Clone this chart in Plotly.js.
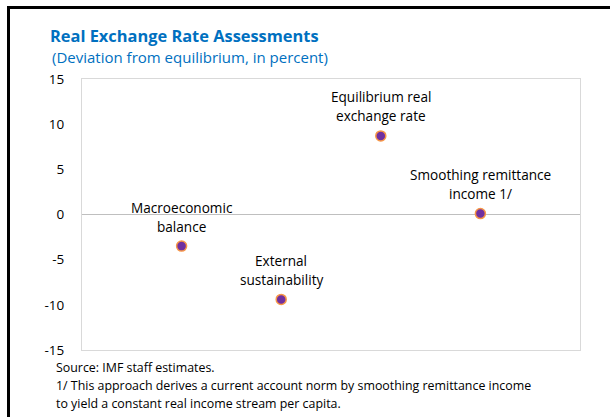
<!DOCTYPE html>
<html>
<head>
<meta charset="utf-8">
<script src="https://cdn.plot.ly/plotly-3.0.1.min.js"></script>
<style>
  html, body { margin: 0; padding: 0; background: #fff; }
  #wrap { position: relative; width: 610px; height: 417px; overflow: hidden; }
  #chart { position: absolute; left: 0; top: 0; width: 610px; height: 417px; }
  #frame { position: absolute; left: 7px; top: 6px; width: 620px; height: 430px;
           border-left: 3px solid #000; border-top: 3px solid #000; pointer-events: none; }
</style>
</head>
<body>
<div id="wrap">
  <div id="chart"></div>
  <div id="frame"></div>
</div>
<script>
// Data
const categories = ["Macroeconomic balance", "External sustainability", "Equilibrium real exchange rate", "Smoothing remittance income 1/"];
const labelLine1 = ["Macroeconomic", "External", "Equilibrium real", "Smoothing remittance"];
const labelLine2 = ["balance", "sustainability", "exchange rate", "income 1/"];
const positions = [1, 2, 3, 4];
const deviation = [-3.5, -9.4, 8.7, 0.1];
const yTicks = [-15, -10, -5, 0, 5, 10, 15];

const titleText = "Real Exchange Rate Assessments";
const subtitleText = "(Deviation from equilibrium, in percent)";
const notes = [
  "Source: IMF staff estimates.",
  "1/ This approach derives a current account norm by smoothing remittance income",
  "to yield a constant real income stream per capita."
];

const FONT = "'Open Sans', 'Noto Sans', sans-serif";

const trace = {
  type: "scatter",
  mode: "markers",
  x: positions,
  y: deviation,
  text: categories,
  marker: { size: 10, color: "#7030A0", line: { color: "#F79646", width: 1.5 } },
  hoverinfo: "skip",
  cliponaxis: false
};

const L = 82, R = 580, T = 79, B = 350, W = 610, H = 417;
const px = v => (v - L) / (R - L);
const py = v => (B - v) / (B - T);

const annotations = [
  { text: subtitleText, xref: "paper", yref: "paper", x: px(50), y: py(57),
    xanchor: "left", yanchor: "middle", showarrow: false,
    font: { family: FONT, size: 15, color: "#0070C0" } }
];
const noteY = [367, 385, 403];
notes.forEach((t, i) => annotations.push({
  text: t, xref: "paper", yref: "paper", x: px(54), y: py(noteY[i]),
  xanchor: "left", yanchor: "middle", showarrow: false,
  font: { family: FONT, size: 12.4, color: "#000" }
}));
positions.forEach((p, i) => {
  [[labelLine1[i], 39], [labelLine2[i], 20]].forEach(([t, s]) => annotations.push({
    text: t, x: p, y: deviation[i], xref: "x", yref: "y",
    xanchor: "center", yanchor: "middle", yshift: s, showarrow: false,
    font: { family: FONT, size: 13.6, color: "#000" }
  }));
});

const layout = {
  width: W, height: H,
  margin: { l: L, r: W - R, t: T, b: H - B, pad: 0 },
  paper_bgcolor: "#fff", plot_bgcolor: "#fff",
  showlegend: false,
  title: {
    text: "<b>" + titleText + "</b>",
    xref: "container", yref: "container",
    x: 50 / W, xanchor: "left",
    y: 1 - 36 / H, yanchor: "middle",
    font: { family: FONT, size: 16.4, color: "#0070C0" }
  },
  xaxis: {
    range: [0, 5], showticklabels: false, ticks: "", showgrid: false,
    zeroline: false, showline: true, mirror: true, linecolor: "#D9D9D9", linewidth: 1,
    fixedrange: true
  },
  yaxis: {
    range: [-15, 15], tickvals: yTicks, ticktext: yTicks.map(String),
    ticks: "", ticklabelstandoff: 14,
    showgrid: false, zeroline: true, zerolinecolor: "#BFBFBF", zerolinewidth: 1,
    showline: true, mirror: true, linecolor: "#D9D9D9", linewidth: 1,
    tickfont: { family: FONT, size: 13.5, color: "#000" },
    fixedrange: true
  },
  annotations: annotations
};

Plotly.newPlot("chart", [trace], layout, { displayModeBar: false, staticPlot: true });
</script>
</body>
</html>
